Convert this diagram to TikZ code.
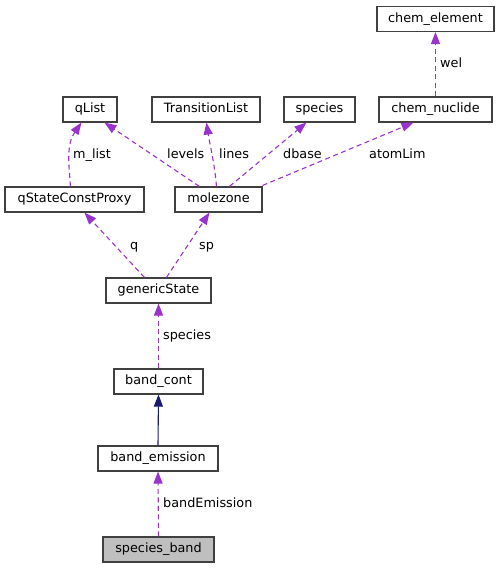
\documentclass[tikz,border=0pt]{standalone}
\usepackage{fontspec}
\setmainfont{DejaVu Sans}
\usetikzlibrary{arrows.meta}
\definecolor{edgepurple}{HTML}{9A32CD}
\definecolor{inhnavy}{HTML}{191970}
\definecolor{boxborder}{HTML}{404040}
\begin{document}
\begin{tikzpicture}[x=1pt,y=-1pt,
  cls/.style={draw=boxborder,line width=1.1pt,fill=white,minimum height=25pt,inner sep=0pt,font=\fontsize{12.8}{14}\selectfont,text height=0.75em,text depth=0.15em},
  usage/.style={draw=edgepurple,line width=1.1pt,dash pattern=on 5pt off 3.5pt,-{Triangle[length=12pt,width=9pt,fill=edgepurple]}},
  inh/.style={draw=inhnavy,line width=1.1pt,-{Triangle[length=12pt,width=9pt,fill=inhnavy]}},
  lbl/.style={font=\fontsize{12.8}{14}\selectfont,inner sep=0pt,anchor=base west}]
\useasboundingbox (0,0) rectangle (500,568);
\node[cls,minimum width=117pt] (ce) at (435.5,19) {chem\_element};
\node[cls,minimum width=54pt] (ql) at (90,109.5) {qList};
\node[cls,minimum width=108pt] (tl) at (206,109.5) {TransitionList};
\node[cls,minimum width=71pt] (sp) at (319.5,109.5) {species};
\node[cls,minimum width=113pt] (cn) at (435.5,109.5) {chem\_nuclide};
\node[cls,minimum width=139pt] (qs) at (74.5,199.5) {qStateConstProxy};
\node[cls,minimum width=87pt] (mz) at (218.5,199.5) {molezone};
\node[cls,minimum width=105pt] (gs) at (158.5,290.5) {genericState};
\node[cls,minimum width=89pt] (bc) at (158.5,381.5) {band\_cont};
\node[cls,minimum width=120pt] (be) at (158,458.5) {band\_emission};
\node[cls,minimum width=111pt,fill=black!25] (sb) at (158.5,549.5) {species\_band};
% edges
\draw[usage] (cn.north) -- (ce.south);
\draw[usage] ([xshift=66pt]qs.north west) .. controls (69,165) and (66,145) .. ([xshift=19pt]ql.south west);
\draw[usage] ([xshift=25pt]mz.north west) -- ([xshift=42pt]ql.south west);
\draw[usage] ([xshift=42pt]mz.north west) .. controls (215,165) and (209,140) .. ([xshift=55pt]tl.south west);
\draw[usage] ([xshift=55pt]mz.north west) -- ([xshift=23pt]sp.south west);
\draw[usage] ([yshift=1pt]mz.north east) -- ([xshift=35pt]cn.south west);
\draw[usage] ([xshift=39pt]gs.north west) -- ([xshift=80pt]qs.south west);
\draw[usage] ([xshift=61pt]gs.north west) -- ([xshift=35pt]mz.south west);
\draw[usage] (bc.north) -- (gs.south);
\draw[inh] (be.north) -- (bc.south);
\draw[usage] (sb.north) -- (be.south);
% labels
\node[lbl] (lwel) at (440,67) {wel};
\node[lbl] (lml) at (73,158.5) {m\_list};
\node[lbl] (llev) at (167,158.5) {levels};
\node[lbl] (llin) at (219,158.5) {lines};
\node[lbl] (ldb) at (283,158.5) {dbase};
\node[lbl] (lat) at (369,158.5) {atomLim};
\node[lbl] (lq) at (130,249) {q};
\node[lbl] (lsp) at (199,249) {sp};
\node[lbl] (lspe) at (163,339) {species};
\node[lbl] (lbe) at (163,507) {bandEmission};
\end{tikzpicture}
\end{document}
